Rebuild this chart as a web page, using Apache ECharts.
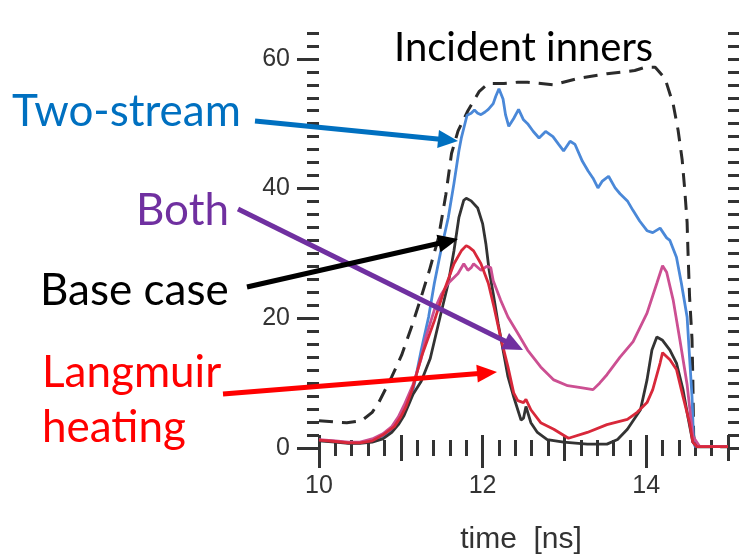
<!DOCTYPE html>
<html>
<head>
<meta charset="utf-8">
<script src="https://cdn.jsdelivr.net/npm/echarts@6/dist/echarts.min.js"></script>
<style>html,body{margin:0;padding:0;background:#fff}#c{width:739px;height:556px}</style>
</head>
<body>
<div id="c"></div>
<script>
// ---- data (time in ns, value) ----
const incidentT = [10.0,10.2,10.34,10.52,10.65,10.73,10.89,11.01,11.13,11.25,11.35,11.46,11.55,11.62,11.70,11.82,11.96,12.07,12.26,12.43,12.55,12.87,13.17,13.52,13.86,13.99,14.11,14.23,14.33,14.39,14.44,14.47,14.50,14.51,14.53,14.56,14.57,14.58,14.60,15.0];
const incidentV = [4.2,4.0,3.9,4.2,5.5,7.0,11.0,14.3,18.6,23.3,27.4,32.4,39,45.4,48.9,52,55,56.2,56.2,56.4,56.4,56,57,57.7,58.2,58.7,58.7,57,53,49,44.4,40,34.8,30.6,23.4,16.8,10.7,2,0.2,0.2];

const twoT = [10.0,10.2,10.36,10.5,10.65,10.78,10.89,10.97,11.04,11.1,11.15,11.17,11.25,11.34,11.41,11.49,11.58,11.65,11.71,11.74,11.77,11.81,11.86,11.90,11.94,11.98,12.03,12.07,12.13,12.16,12.20,12.25,12.28,12.32,12.38,12.44,12.50,12.55,12.62,12.69,12.77,12.86,12.93,12.99,13.07,13.13,13.22,13.29,13.35,13.41,13.46,13.54,13.62,13.68,13.77,13.84,13.92,14.01,14.08,14.17,14.25,14.29,14.37,14.43,14.50,14.53,14.56,14.58,14.60,15.0];
const twoV = [1.2,1.0,0.8,0.8,1.1,1.8,2.8,4.2,5.8,7.6,9.0,10.1,15.1,20.2,25.4,30.4,35.5,40.8,45.8,47.8,49.3,51.3,51.6,52.1,51.6,51.4,51.8,52.2,53.1,54.2,55.4,53.8,51.4,49.6,50.8,52.2,50.6,50.0,48.8,47.8,48.8,48.0,46.8,45.8,47.3,46.8,44.2,42.7,41.6,40.1,41.1,41.9,40.1,39.2,38.1,36.6,35.0,33.5,33.2,33.9,32.4,32.0,29.4,25.4,20.2,14.0,7.9,0.9,0.2,0.2];

const baseT = [10.0,10.2,10.36,10.5,10.65,10.78,10.89,10.97,11.04,11.1,11.15,11.25,11.36,11.48,11.58,11.65,11.71,11.77,11.80,11.86,11.94,12.00,12.04,12.08,12.13,12.19,12.25,12.31,12.38,12.43,12.47,12.50,12.53,12.59,12.67,12.79,12.99,13.28,13.52,13.65,13.77,13.93,14.01,14.07,14.13,14.20,14.29,14.37,14.45,14.51,14.57,14.62,15.0];
const baseV = [1.1,0.9,0.7,0.7,0.9,1.4,2.4,3.6,5.0,6.8,8.3,10.3,13.8,20.2,25.4,30.4,35.5,38.2,38.5,38.1,37.0,34.6,31.5,27.4,23.8,19.2,15.1,11.0,7.9,5.9,4.3,4.6,6.4,3.9,2.4,1.3,0.9,0.6,0.6,1.3,2.9,5.9,10.5,15.1,17.1,16.6,15.1,13.1,9.0,4.8,0.9,0.2,0.2];

const langT = [10.0,10.2,10.36,10.5,10.65,10.78,10.92,11.0,11.06,11.14,11.25,11.41,11.53,11.65,11.74,11.80,11.83,11.89,11.98,12.07,12.14,12.22,12.31,12.38,12.43,12.50,12.53,12.59,12.71,12.87,13.05,13.28,13.52,13.77,13.89,14.01,14.08,14.17,14.20,14.29,14.37,14.45,14.53,14.57,14.62,15.0];
const langV = [1.2,1.0,0.8,0.8,1.1,2.0,3.3,4.8,6.3,9.0,14.0,19.6,24.3,28.4,30.4,31.2,31.0,30.4,28.4,25.4,21.7,17.1,12.5,8.5,7.3,7.0,7.5,5.9,3.9,2.9,1.5,2.4,3.6,4.4,5.5,7.0,9.0,13.1,14.7,13.6,12.1,7.9,3.9,0.9,0.2,0.2];

const bothT = [10.0,10.2,10.36,10.5,10.65,10.78,10.89,10.97,11.04,11.15,11.25,11.30,11.41,11.50,11.58,11.70,11.77,11.82,11.86,11.89,11.98,12.05,12.10,12.13,12.22,12.31,12.43,12.55,12.71,12.87,13.04,13.20,13.35,13.43,13.52,13.68,13.84,14.01,14.13,14.20,14.25,14.33,14.41,14.50,14.57,14.65,15.0];
const bothV = [1.3,1.1,0.9,0.9,1.4,2.2,3.3,4.8,6.6,9.8,13.8,16.8,21.3,23.8,25.4,26.9,28.4,27.4,27.8,28.4,27.4,28.0,27.8,25.8,22.8,20.2,17.7,15.1,12.5,10.5,9.6,9.3,9.0,10.0,11.3,14.0,16.4,20.8,25.4,28.1,27.1,22.8,16.8,9.8,1.8,0.3,0.2];

const xLabelTicks = [10,12,14];
const yLabelTicks = [0,20,40,60];
const yMinorTicks = []; for (let v = 0; v <= 64; v += 2) yMinorTicks.push(v);
const yMidTicks = [0,10,20,30,40,50,60];

const zip = (t, v) => t.map((x, i) => [x, v[i]]);

const tickColor = '#333';
const lblFont = 'Liberation Sans';
const annFont = 'Lato';

function arrow(x1, y1, x2, y2, color, w, hl, hw) {
  const dx = x2 - x1, dy = y2 - y1, L = Math.hypot(dx, dy), ux = dx / L, uy = dy / L;
  const bx = x2 - ux * hl, by = y2 - uy * hl, px = -uy, py = ux;
  return [
    {type: 'line', z: 100, shape: {x1: x1, y1: y1, x2: bx + ux * 2, y2: by + uy * 2}, style: {stroke: color, lineWidth: w}},
    {type: 'polygon', z: 100, shape: {points: [[x2, y2], [bx + px * hw / 2, by + py * hw / 2], [bx - px * hw / 2, by - py * hw / 2]]}, style: {fill: color}}
  ];
}
function label(text, x, y, color, align, size) {
  return {type: 'text', z: 100, x: x, y: y, style: {text: text, fill: color, font: (size || 44) + 'px ' + annFont, align: align || 'left', verticalAlign: 'middle'}};
}

const YMAX = 64.6;
const baseX = {type: 'value', min: 10, max: 15, splitLine: {show: false}, axisLine: {show: false}};
const baseY = {type: 'value', min: 0, max: YMAX, splitLine: {show: false}, axisLine: {show: false}};

const chart = echarts.init(document.getElementById('c'), null, {renderer: 'canvas'});
chart.setOption({
  animation: false,
  backgroundColor: '#fff',
  grid: {left: 319, right: 11, top: 29, bottom: 108, containLabel: false},
  xAxis: [
    Object.assign({}, baseX, {position: 'bottom', interval: 1,
      axisTick: {length: 13, lineStyle: {width: 3, color: tickColor}},
      minorTick: {show: true, splitNumber: 5, length: 8, lineStyle: {width: 3, color: tickColor}},
      axisLabel: {customValues: xLabelTicks, margin: 26, fontSize: 25, color: '#333', fontFamily: lblFont}}),
    Object.assign({}, baseX, {position: 'bottom',
      axisTick: {customValues: xLabelTicks, length: 20, lineStyle: {width: 3, color: tickColor}},
      axisLabel: {show: false}}),
    Object.assign({}, baseX, {position: 'top', interval: 1,
      axisTick: {length: 13, lineStyle: {width: 3, color: tickColor}},
      minorTick: {show: true, splitNumber: 5, length: 8, lineStyle: {width: 3, color: tickColor}},
      axisLabel: {show: false}})
  ],
  yAxis: [
    Object.assign({}, baseY, {position: 'left',
      axisTick: {customValues: yMinorTicks, length: 12, lineStyle: {width: 3, color: tickColor}},
      axisLabel: {customValues: yLabelTicks, margin: 29, fontSize: 25, color: '#333', fontFamily: lblFont}}),
    Object.assign({}, baseY, {position: 'left',
      axisTick: {customValues: yLabelTicks, length: 22, lineStyle: {width: 3, color: tickColor}},
      axisLabel: {show: false}}),
    Object.assign({}, baseY, {position: 'right',
      axisTick: {customValues: yMinorTicks, length: 11, lineStyle: {width: 3, color: tickColor}},
      axisLabel: {show: false}}),
    Object.assign({}, baseY, {position: 'right',
      axisTick: {customValues: yMidTicks, length: 14, lineStyle: {width: 3, color: tickColor}},
      axisLabel: {show: false}})
  ],
  series: [
    {name: 'Incident inners', type: 'line', data: zip(incidentT, incidentV), showSymbol: false, z: 3,
      lineStyle: {color: '#2b2b2b', width: 3, type: [14, 9]}},
    {name: 'Two-stream', type: 'line', data: zip(twoT, twoV), showSymbol: false, z: 4,
      lineStyle: {color: '#4a88d8', width: 2.8}},
    {name: 'Base case', type: 'line', data: zip(baseT, baseV), showSymbol: false, z: 5,
      lineStyle: {color: '#333333', width: 2.8}},
    {name: 'Both', type: 'line', data: zip(bothT, bothV), showSymbol: false, z: 6,
      lineStyle: {color: '#cc4f92', width: 2.8}},
    {name: 'Langmuir heating', type: 'line', data: zip(langT, langV), showSymbol: false, z: 7,
      lineStyle: {color: '#d8283a', width: 2.8}}
  ],
  graphic: [].concat(
    [label('Incident inners', 394, 48, '#000', 'left', 40),
     label('Two-stream', 12, 112, '#0070C0'),
     label('Both', 229, 211, '#7030A0', 'right'),
     label('Base case', 40, 291, '#000'),
     label('Langmuir', 42, 373, '#FF0000'),
     label('heating', 42, 428, '#FF0000'),
     {type: 'text', z: 100, x: 521, y: 540, style: {text: 'time  [ns]', fill: '#333', font: '30px ' + lblFont, align: 'center', verticalAlign: 'middle'}}],
    arrow(255, 121, 458, 141, '#0070C0', 5, 20, 18),
    arrow(238, 209, 523, 350, '#7030A0', 5, 20, 18),
    arrow(247, 287, 458, 239, '#000000', 5, 20, 18),
    arrow(223, 394, 497, 372, '#FF0000', 5, 20, 18)
  )
});
</script>
</body>
</html>
